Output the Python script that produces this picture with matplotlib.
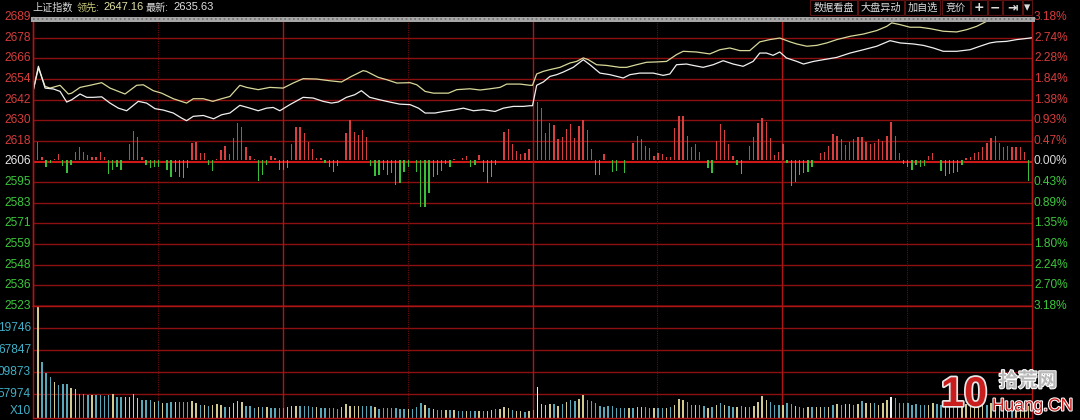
import matplotlib
matplotlib.use("Agg")
import matplotlib.pyplot as plt
import matplotlib.patheffects as pe
from matplotlib.lines import Line2D
from matplotlib.patches import Rectangle
import numpy as np

plt.rcParams['font.family'] = ['Liberation Sans', 'Noto Sans CJK SC', 'DejaVu Sans']

# ---- data ----
prev_close = 2606.0
price_labels = ['2689', '2678', '2666', '2654', '2642', '2630', '2618', '2606',
                '2595', '2583', '2571', '2559', '2548', '2536', '2523']
pct_labels = ['3.18%', '2.74%', '2.28%', '1.84%', '1.38%', '0.93%', '0.47%', '0.00%',
              '0.43%', '0.89%', '1.35%', '1.80%', '2.24%', '2.70%', '3.18%']
vol_labels = ['19746', '67847', '09873', '57974']
vol_levels = [90, 68, 46, 24]

# index (white) line: minute, price
index_min = [0, 1.3, 2.9, 4.9, 6.5, 8.1, 9.3, 11.3, 12.9, 14.5,
             16.5, 18.5, 20.5, 22.5, 25.3, 27.3, 29.3, 31.3, 33.7, 35.7,
             36.9, 38.5, 40.9, 43.4, 45.3, 47.3, 49.7, 52.1, 54.1, 56.1,
             57.7, 59.3, 61.7, 64.9, 67.3, 69.7, 71.7, 73.3, 75.3, 77.3,
             78.9, 80.9, 83.3, 85.7, 88.1, 90.6, 92.6, 94.2, 96.6, 98.6,
             101.0, 103.4, 105.8, 108.2, 111.0, 113.0, 115.4, 117.8, 119.4, 120,
             121, 122.6, 124.2, 125.8, 127.4, 129.8, 132.2, 133.8, 136.2, 138.6,
             141.8, 143.4, 145.8, 149.0, 151.4, 153.0, 154.6, 157.0, 158.6, 161.0,
             163.4, 165.8, 168.2, 170.6, 173.0, 174.6, 176.2, 177.8, 179.4, 181.0,
             183.5, 185.1, 187.5, 189.9, 193.1, 196.3, 199.5, 202.7, 205.9, 208.3,
             211.5, 213.9, 216.3, 218.7, 221.9, 225.1, 227.5, 229.9, 231.5, 233.9,
             236.3, 239.5, 240]
index_px = [2646.2, 2660.6, 2648.1, 2647.6, 2646.2, 2640.1, 2641.4, 2644.7, 2642.8, 2642.8,
            2643.1, 2639.5, 2636.6, 2635.1, 2640.5, 2639.5, 2636.3, 2635.5, 2633.8, 2630.9,
            2629.4, 2631.9, 2632.4, 2630.5, 2632.8, 2633.8, 2638.2, 2636.6, 2635.1, 2636.6,
            2637.0, 2635.1, 2638.6, 2642.8, 2642.4, 2640.5, 2639.5, 2640.1, 2642.8, 2644.3,
            2646.6, 2642.8, 2641.4, 2640.1, 2638.9, 2638.6, 2636.6, 2633.8, 2633.8, 2634.7,
            2635.5, 2636.6, 2635.1, 2635.7, 2634.7, 2636.6, 2637.6, 2637.6, 2638.0, 2638.0,
            2649.7, 2651.6, 2654.8, 2655.8, 2657.3, 2660.0, 2664.4, 2661.5, 2656.7, 2655.8,
            2653.9, 2655.8, 2656.7, 2656.7, 2655.4, 2656.2, 2661.5, 2661.9, 2661.1, 2660.0,
            2661.5, 2663.8, 2661.9, 2660.6, 2663.4, 2668.2, 2668.2, 2666.9, 2668.8, 2665.4,
            2663.4, 2661.9, 2663.4, 2664.4, 2665.7, 2668.2, 2670.1, 2672.1, 2675.3, 2674.0,
            2673.4, 2672.6, 2671.1, 2669.2, 2669.2, 2670.1, 2672.1, 2674.0, 2674.6, 2674.9,
            2675.9, 2676.8, 2677.0]

# leading (yellow) line: minute, price
lead_min = [0, 1.3, 2.9, 4.1, 6.5, 8.5, 9.3, 11.3, 13.7, 16.5,
            18.5, 22.1, 24.9, 26.5, 28.9, 30.9, 33.7, 36.9, 38.5, 40.9,
            43.2, 45.3, 47.3, 49.7, 51.3, 54.1, 56.9, 60.1, 62.5, 64.9,
            68.1, 71.3, 74.1, 76.5, 79.3, 80.1, 82.9, 85.0, 87.4, 90.6,
            92.2, 94.2, 96.2, 99.8, 101.8, 105.0, 107.4, 109.8, 112.2, 113.8,
            117.0, 119.4, 120, 121, 122.6, 124.2, 126.6, 129.0, 130.6, 132.2,
            133.4, 135.4, 137.8, 141.0, 142.6, 145.0, 147.4, 149.8, 152.2, 154.6,
            156.2, 159.4, 162.6, 165.0, 167.4, 169.8, 172.2, 174.6, 177.0, 179.4,
            181.9, 183.5, 185.9, 188.3, 190.7, 193.1, 196.3, 199.5, 202.7, 205.1,
            206.3, 208.3, 210.7, 213.1, 215.5, 218.7, 221.9, 224.3, 226.7, 229.1,
            231.5, 234.7, 237.1, 239.5, 240]
lead_px = [2646.2, 2659.6, 2649.1, 2648.1, 2649.7, 2644.7, 2645.2, 2648.5, 2649.7, 2651.2,
           2648.1, 2644.7, 2649.7, 2650.0, 2646.6, 2645.2, 2642.0, 2639.5, 2642.0, 2642.0,
           2640.5, 2642.0, 2643.3, 2649.7, 2648.5, 2647.2, 2648.5, 2648.1, 2651.0, 2653.5,
           2653.3, 2652.3, 2651.6, 2654.8, 2658.1, 2657.7, 2654.3, 2652.9, 2651.0, 2651.2,
           2650.0, 2646.2, 2645.2, 2645.2, 2647.2, 2647.7, 2647.0, 2647.7, 2648.5, 2650.4,
           2650.4, 2649.7, 2649.7, 2656.2, 2657.7, 2658.7, 2660.0, 2662.5, 2663.4, 2665.4,
           2664.4, 2661.5, 2661.1, 2660.0, 2660.0, 2661.5, 2662.9, 2663.1, 2663.4, 2667.3,
           2669.2, 2668.8, 2667.7, 2670.1, 2671.1, 2669.6, 2669.6, 2674.6, 2675.9, 2676.8,
           2674.6, 2673.4, 2672.1, 2672.6, 2674.0, 2675.9, 2677.8, 2679.1, 2681.1, 2683.5,
           2685.5, 2684.5, 2683.0, 2683.0, 2682.2, 2680.7, 2680.3, 2681.6, 2683.5, 2686.4,
           2687.6, 2688.0, 2688.3, 2688.3, 2688.5]

# buy/sell strength bars, minutes 1..239
strength = [18, 3, -7, -3, 1, 6, -6, -13, -5, 8,
            13, 8, 5, 3, 3, 8, 3, -14, -10, -7,
            -10, 0, 16, 29, 23, 3, -5, -8, -7, -7,
            0, -10, -17, -12, -17, -18, -8, 17, 18, 7,
            7, -5, -11, 1, 10, 14, 6, 22, 37, 33,
            13, 4, 1, -21, -15, -5, 4, 2, -10, -10,
            -8, 16, 33, 33, 27, 18, 11, 2, 2, -3,
            -7, -12, -6, 0, 27, 40, 28, 25, 30, 23,
            -6, -16, -15, -10, -15, -13, -25, -23, -12, -7,
            0, -12, -47, -47, -33, -17, -15, -11, -4, -7,
            0.5, 0, 2, 4, -7, -5, 5, -12, -23, -17,
            -5, 0, 28, 31, 16, 9, 6, 7, 11, 0,
            58, 52, 27, 37, 35, 21, 23, 31, 36, 22,
            34, 40, 30, 11, -15, -15, 6, 0, -12, -11,
            0, -13, 0, 17, 24, 21, 14, 12, 4, 7,
            6, 3, 3, 32, 44, 44, 24, 13, 16, 8,
            0, -8, -13, 19, 36, 30, 16, 4, -5, -14,
            0, 14, 23, 37, 42, 38, 22, 5, 8, 16,
            -3, -26, -22, -15, -13, -12, -7, 0, 7, 8,
            14, 26, 24, 21, 15, 18, 21, 23, 23, 18,
            16, 17, 21, 19, 24, 38, 24, 7, -4, -7,
            -10, -5, -7, -6, 4, 7, 0, -11, -16, -14,
            -13, -12, -5, 2, 3, 7, 8, 13, 17, 22,
            24, 17, 13, 14, 13, 13, 13, 8, -21]

# volume per minute 0..240 (x10)
volume = [46, 112, 56, 45, 41, 36, 33, 34, 34, 30,
          29, 24, 24, 23, 23, 23, 23, 22, 23, 24,
          21, 21, 21, 21, 24, 20, 18, 18, 18, 16,
          17, 15, 15, 16, 16, 16, 16, 16, 17, 15,
          13, 13, 12, 13, 14, 13, 11, 11, 15, 17,
          16, 12, 12, 10, 11, 11, 11, 10, 10, 10,
          10, 11, 12, 12, 12, 12, 12, 11, 11, 10,
          10, 10, 10, 9, 11, 14, 12, 12, 12, 12,
          12, 12, 11, 9, 10, 10, 10, 10, 9, 9,
          9, 9, 11, 15, 13, 10, 9, 8, 8, 8,
          8, 8, 7, 7, 7, 7, 7, 7, 7, 7,
          8, 9, 9, 11, 10, 8, 7, 7, 6, 7,
          8, 31, 14, 13, 14, 14, 12, 14, 16, 18,
          17, 19, 23, 18, 17, 15, 12, 11, 12, 12,
          10, 10, 10, 10, 10, 11, 11, 11, 10, 10,
          10, 10, 10, 11, 13, 19, 18, 16, 13, 13,
          13, 12, 10, 11, 13, 15, 13, 12, 11, 11,
          12, 11, 11, 12, 16, 22, 18, 16, 13, 13,
          13, 15, 14, 12, 11, 10, 11, 11, 11, 11,
          11, 11, 13, 14, 13, 14, 14, 13, 14, 17,
          15, 15, 15, 13, 15, 18, 21, 20, 15, 15,
          15, 13, 14, 13, 13, 13, 15, 14, 13, 13,
          14, 13, 13, 13, 14, 13, 14, 13, 13, 13,
          15, 14, 13, 13, 13, 13, 13, 13, 13, 12,
          5]
# volume bar tone per minute: w = white, y = yellow, c = cyan
vol_tone = "".join([
    "wycccycccy", "ycccyccccy", "ccyyyycccy", "cyccycccyy", "cycyyycyyy",
    "ycccycyccc", "cyyyccccyc", "ccccyyyyyc", "ccyccccccc", "ycccycyccy",
    "cyccyccycy", "ycyyycyycy", "cwyyycycyc", "cyyccccccc", "cccycyyccy",
    "ccycyyyccy", "ccycycyccy", "cycyyyyccc", "yccyccycyy", "cycycyycyc",
    "yycyyywccc", "cccccyyccy", "ycyyyyyyyc", "yyyyycyyyy", "w"])

# ---- drawing ----
W, H = 1080, 420
BG = 'black'
GRID = '#8c1010'
BRIGHT = '#b01515'
RED_TXT = '#d83c3c'
GREEN_TXT = '#3cc83c'
CYAN_TXT = '#3fb0c8'
FS = 8.6


def box(x0, y0, x1, y1):
    return [x0 / W, 1 - y1 / H, (x1 - x0) / W, (y1 - y0) / H]


fig = plt.figure(figsize=(W / 100, H / 100), dpi=100, facecolor=BG)
ax = fig.add_axes(box(33, 17, 1032, 306), facecolor=BG)
axs = ax.twinx()
axv = fig.add_axes(box(33, 306, 1032, 418), facecolor=BG)

step = prev_close * 0.0318 / 7
levels = prev_close + step * np.arange(7, -8, -1)
ax.set_xlim(0, 240)
ax.set_ylim(levels[-1], levels[0])
axs.set_ylim(-146, 143)
axv.set_xlim(0, 240)
axv.set_ylim(0, 112)

for a in (ax, axs, axv):
    a.set_xticks([])
    a.set_yticks([])
    for s in a.spines.values():
        s.set_color(BRIGHT)
        s.set_linewidth(1.0)
    a.spines['top'].set_visible(False)
axv.spines['top'].set_visible(True)

# horizontal grid
for i, lv in enumerate(levels):
    if i == 7:
        ax.axhline(lv, color='#d01818', lw=1.5, zorder=1)
    elif i > 0:
        ax.axhline(lv, color=GRID, lw=1.0, zorder=1)
for lv in vol_levels:
    axv.axhline(lv, color=GRID, lw=1.0, zorder=1)

# vertical grid
for a in (ax, axv):
    for m in (30, 90, 150, 210):
        a.axvline(m, color='#6a0c0c', lw=0.8, ls=(0, (1, 1)), zorder=1)
    for m in (60, 120, 180):
        a.axvline(m, color=BRIGHT, lw=1.0, zorder=1)

# strength bars
k = np.arange(1, len(strength) + 1)
s = np.array(strength, dtype=float)
axs.bar(k, s, width=0.32, align='edge',
        color=np.where(s >= 0, '#d84040', '#38c038'), zorder=2)

# lines
ax.plot(lead_min, lead_px, color='#d8d89a', lw=0.9, zorder=4)
ax.plot(index_min, index_px, color='#f0f0f0', lw=0.9, zorder=5)

# volume bars
tone_colors = {'w': '#f2f2f2', 'y': '#d2c98f', 'c': '#58a6b8'}
kv = np.arange(len(volume))
axv.bar(kv, volume, width=0.34, align='edge',
        color=[tone_colors[t] for t in vol_tone], zorder=2)

# axis labels
ytr = ax.get_yaxis_transform()
for i, (lv, pl, cl) in enumerate(zip(levels, price_labels, pct_labels)):
    c = RED_TXT if i < 7 else ('#e8e8e8' if i == 7 else GREEN_TXT)
    ax.text(-0.002, lv, pl, transform=ytr, ha='right', va='center',
            color=c, fontsize=FS, clip_on=False)
    c2 = '#d8d8d8' if i == 7 else c
    ax.text(1.002, lv, cl, transform=ytr, ha='left', va='center',
            color=c2, fontsize=FS, clip_on=False)
vtr = axv.get_yaxis_transform()
for lv, lb in zip(vol_levels, vol_labels):
    axv.text(-0.002, lv, lb, transform=vtr, ha='right', va='center',
             color=CYAN_TXT, fontsize=FS, clip_on=False)
axv.text(-0.002, 7, 'X10', transform=vtr, ha='right', va='center',
         color=CYAN_TXT, fontsize=FS, clip_on=False)

# grey band at the top of the chart
fig.add_artist(Line2D([33 / W, 1032 / W], [1 - 19 / H] * 2, color='#a6a6a6', lw=3.6))
fig.add_artist(Line2D([33 / W, 1032 / W], [1 - 19 / H] * 2, color='#6e6e6e', lw=1.2,
                      ls=(0, (1, 1.6))))

# header
hy = 1 - 7.5 / H
fig.text(32 / W, hy, '上证指数', color='#d8d8d8', fontsize=7.3, va='center')
fig.text(77 / W, hy, '领先:', color='#c8c878', fontsize=7.3, va='center')
fig.text(103 / W, hy, '2647.16', color='#e2e2a8', fontsize=8, va='center')
fig.text(146 / W, hy, '最新:', color='#e0e0e0', fontsize=7.3, va='center')
fig.text(173 / W, hy, '2635.63', color='#e0e0e0', fontsize=8, va='center')

buttons = [('数据看盘', 810, 857), ('大盘异动', 858, 904), ('加自选', 905, 940),
           ('竞价', 942, 970), ('+', 971, 987), ('−', 988, 1002),
           ('⇥', 1003, 1022), ('▾', 1023, 1032)]
for label, x0, x1 in buttons:
    fig.add_artist(Rectangle((x0 / W, 1 - 15 / H), (x1 - x0) / W, 15 / H,
                             fill=False, edgecolor='#5a1212', lw=0.8))
    bold = label in ('+', '−', '⇥', '▾')
    fig.text((x0 + x1) / 2 / W, 1 - 7.5 / H, label, color='#dcdcdc',
             fontsize=9 if bold else 7.3, fontweight='bold' if bold else 'normal',
             ha='center', va='center',
             family=['DejaVu Sans'] if bold else ['Noto Sans CJK SC'])

# watermark
fig.text(964 / W, 1 - 395 / H, '10', color='#c81e1e', fontsize=30, fontweight='bold',
         ha='center', va='center', zorder=10,
         path_effects=[pe.withStroke(linewidth=2.5, foreground='#e8e8e8')])
fig.text(1028 / W, 1 - 381 / H, '拾荒网', color='#b8b8b8', fontsize=14, fontweight='bold',
         ha='center', va='center', family=['Noto Sans CJK SC'], zorder=10,
         path_effects=[pe.withStroke(linewidth=1.5, foreground='#ffffff')])
fig.text(992 / W, 1 - 406 / H, 'Huang.CN', color='#c81e1e', fontsize=12.5,
         ha='left', va='center', zorder=10,
         path_effects=[pe.withStroke(linewidth=1.5, foreground='#ffffff')])

fig.savefig('out.png', dpi=100, facecolor=BG)
